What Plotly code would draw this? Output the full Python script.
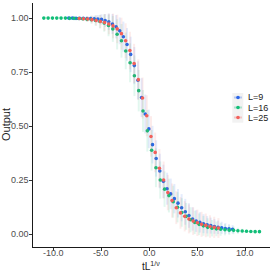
import plotly.graph_objects as go

# ---------------- data ----------------
series_names = ["L=9", "L=16", "L=25"]
series_colors = ["#2B66E8", "#12BE78", "#F2605B"]
error_colors = ["rgba(43,102,232,0.12)", "rgba(18,190,120,0.12)", "rgba(242,96,91,0.12)"]
key_line_colors = ["rgba(43,102,232,0.3)", "rgba(18,190,120,0.3)", "rgba(242,96,91,0.3)"]

x_L9 = [-8.40, -8.02, -7.64, -7.26, -6.88, -6.50, -6.12, -5.74, -5.36, -4.98,
        -4.60, -4.22, -3.84, -3.46, -3.08, -2.70, -2.32, -1.94, -1.56, -1.18,
        -0.80, -0.42, -0.04, 0.34, 0.72, 1.10, 1.48, 1.86, 2.24, 2.62,
        3.00, 3.38, 3.76, 4.14, 4.52, 4.90, 5.28, 5.66, 6.04, 6.42,
        6.80, 7.18, 7.56, 7.94, 8.32, 8.70]
y_L9 = [1.000, 1.000, 0.999, 0.999, 0.999, 0.998, 0.998, 0.997, 0.996, 0.994,
        0.989, 0.983, 0.973, 0.960, 0.941, 0.914, 0.878, 0.832, 0.780, 0.712,
        0.632, 0.556, 0.487, 0.414, 0.350, 0.292, 0.244, 0.210, 0.186, 0.164,
        0.143, 0.122, 0.103, 0.086, 0.070, 0.060, 0.054, 0.048, 0.043, 0.039,
        0.035, 0.031, 0.029, 0.026, 0.024, 0.022]
e_L9 = [0.002, 0.003, 0.004, 0.005, 0.006, 0.008, 0.010, 0.014, 0.018, 0.024,
        0.030, 0.038, 0.046, 0.054, 0.062, 0.070, 0.076, 0.082, 0.086, 0.088,
        0.090, 0.090, 0.089, 0.087, 0.084, 0.080, 0.077, 0.074, 0.071, 0.068,
        0.066, 0.063, 0.060, 0.057, 0.054, 0.050, 0.047, 0.044, 0.040, 0.037,
        0.034, 0.031, 0.028, 0.025, 0.022, 0.020]

x_L16 = [-11.00, -10.55, -10.10, -9.65, -9.20, -8.75, -8.30, -7.85, -7.40, -6.95,
         -6.50, -6.05, -5.60, -5.15, -4.70, -4.25, -3.80, -3.35, -2.90, -2.45,
         -2.00, -1.55, -1.10, -0.65, -0.20, 0.25, 0.70, 1.15, 1.60, 2.05,
         2.50, 2.95, 3.40, 3.85, 4.30, 4.75, 5.20, 5.65, 6.10, 6.55,
         7.00, 7.45, 7.90, 8.35, 8.80, 9.25, 9.70, 10.15, 10.60, 11.05, 11.50]
y_L16 = [1.000, 1.000, 1.000, 1.000, 1.000, 1.000, 0.999, 0.999, 0.998, 0.997,
         0.995, 0.993, 0.989, 0.984, 0.977, 0.966, 0.950, 0.925, 0.895, 0.848,
         0.793, 0.733, 0.664, 0.570, 0.478, 0.388, 0.307, 0.250, 0.208, 0.178,
         0.150, 0.124, 0.100, 0.082, 0.066, 0.054, 0.045, 0.038, 0.031, 0.027,
         0.024, 0.022, 0.020, 0.018, 0.017, 0.015, 0.014, 0.013, 0.012, 0.011, 0.011]
e_L16 = [0.000, 0.000, 0.000, 0.000, 0.001, 0.002, 0.003, 0.004, 0.006, 0.009,
         0.013, 0.018, 0.024, 0.031, 0.040, 0.050, 0.060, 0.070, 0.078, 0.085,
         0.090, 0.094, 0.096, 0.097, 0.096, 0.094, 0.090, 0.086, 0.082, 0.078,
         0.074, 0.070, 0.066, 0.062, 0.058, 0.054, 0.050, 0.046, 0.042, 0.038,
         0.034, 0.030, 0.026, 0.022, 0.018, 0.014, 0.011, 0.008, 0.006, 0.004, 0.003]

x_L25 = [-7.30, -6.86, -6.42, -5.98, -5.54, -5.10, -4.66, -4.22, -3.78, -3.34,
         -2.90, -2.46, -2.02, -1.58, -1.14, -0.70, -0.26, 0.18, 0.62, 1.06,
         1.50, 1.94, 2.38, 2.82, 3.26, 3.70, 4.14, 4.58, 5.02, 5.46,
         5.90, 6.34, 6.78, 7.22]
y_L25 = [0.998, 0.997, 0.996, 0.993, 0.989, 0.984, 0.980, 0.973, 0.964, 0.950,
         0.928, 0.895, 0.850, 0.790, 0.715, 0.630, 0.548, 0.452, 0.378, 0.305,
         0.250, 0.192, 0.155, 0.122, 0.098, 0.082, 0.070, 0.060, 0.052, 0.045,
         0.040, 0.035, 0.031, 0.028]
e_L25 = [0.006, 0.009, 0.013, 0.018, 0.024, 0.031, 0.039, 0.048, 0.057, 0.066,
         0.074, 0.081, 0.087, 0.091, 0.094, 0.095, 0.095, 0.094, 0.092, 0.089,
         0.086, 0.082, 0.079, 0.076, 0.073, 0.070, 0.067, 0.064, 0.061, 0.058,
         0.055, 0.052, 0.049, 0.046]

x_ticks = [-10, -5, 0, 5, 10]
x_tick_labels = ["-10.0", "-5.0", "0.0", "5.0", "10.0"]
y_ticks = [0, 0.25, 0.5, 0.75, 1.0]
y_tick_labels = ["0.00", "0.25", "0.50", "0.75", "1.00"]
x_title = "tL<sup>1/ν</sup>"
y_title = "Output"

xs = [x_L9, x_L16, x_L25]
ys = [y_L9, y_L16, y_L25]
es = [e_L9, e_L16, e_L25]

FONT = "Liberation Sans, Arial, sans-serif"
TICK_COLOR = "#4D4D4D"

# ---------------- figure ----------------
fig = go.Figure()
for name, col, ecol, x, y, e in zip(series_names, series_colors, error_colors, xs, ys, es):
    fig.add_trace(go.Scatter(
        x=x, y=y, mode="markers", name=name, showlegend=False,
        marker=dict(color=col, size=3.6, line=dict(width=0)),
        error_y=dict(type="data", array=e, visible=True, color=ecol,
                     thickness=2, width=0),
    ))

# page-pixel helpers for the panel box
L, R, T, B = 33, 270, 3, 247
def px_x(p):
    return (p - L) / (R - L)
def px_y(p):
    return (B - p) / (B - T)

# custom ggplot-like legend
shapes = [dict(type="rect", xref="paper", yref="paper",
               x0=px_x(232.3), x1=px_x(243.3), y0=px_y(122.7), y1=px_y(93.0),
               fillcolor="#F2F2F2", line=dict(width=0), layer="below")]
annotations = []
for i, (name, col, kcol) in enumerate(zip(series_names, series_colors, key_line_colors)):
    cy = 97.5 + 10 * i
    shapes.append(dict(type="line", xref="paper", yref="paper",
                       x0=px_x(234), x1=px_x(242), y0=px_y(cy), y1=px_y(cy),
                       line=dict(color=kcol, width=2)))
    shapes.append(dict(type="circle", xref="paper", yref="paper",
                       xsizemode="pixel", ysizemode="pixel",
                       xanchor=px_x(238), yanchor=px_y(cy),
                       x0=-1.8, x1=1.8, y0=-1.8, y1=1.8,
                       fillcolor=col, line=dict(width=0)))
    annotations.append(dict(text=name, xref="paper", yref="paper",
                            x=px_x(245.5), y=px_y(cy), xanchor="left", yanchor="middle",
                            showarrow=False,
                            font=dict(family=FONT, size=9, color="#1A1A1A")))

# tick labels (placed on the axes' own scales)
for v, t in zip(x_ticks, x_tick_labels):
    annotations.append(dict(text=t, xref="x", yref="paper", x=v, y=px_y(253.5),
                            xanchor="center", yanchor="middle", showarrow=False,
                            font=dict(family=FONT, size=9, color=TICK_COLOR)))
for v, t in zip(y_ticks, y_tick_labels):
    annotations.append(dict(text=t, xref="paper", yref="y", x=px_x(31), y=v,
                            xanchor="right", yanchor="middle", showarrow=False,
                            font=dict(family=FONT, size=9, color=TICK_COLOR)))

# axis titles
annotations.append(dict(text=x_title, xref="paper", yref="paper",
                        x=px_x(151), y=px_y(265.5), xanchor="center", yanchor="middle",
                        showarrow=False, font=dict(family=FONT, size=10, color="#1A1A1A")))
annotations.append(dict(text=y_title, xref="paper", yref="paper",
                        x=px_x(6), y=px_y(125), xanchor="center", yanchor="middle",
                        textangle=-90, showarrow=False,
                        font=dict(family=FONT, size=11, color="#1A1A1A")))

fig.update_layout(
    width=273, height=273,
    margin=dict(l=L, r=273 - R, t=T, b=273 - B),
    paper_bgcolor="white", plot_bgcolor="white",
    font=dict(family=FONT, size=9, color=TICK_COLOR),
    shapes=shapes, annotations=annotations,
    showlegend=False,
)
fig.update_xaxes(
    range=[-12.13, 12.6], tickvals=x_ticks, showticklabels=False,
    showline=True, linecolor="#1A1A1A", linewidth=1,
    ticks="outside", ticklen=3, tickcolor="#333333", tickwidth=1,
    showgrid=False, zeroline=False, automargin=False,
)
fig.update_yaxes(
    range=[-0.06, 1.07], tickvals=y_ticks, showticklabels=False,
    showline=True, linecolor="#1A1A1A", linewidth=1,
    ticks="outside", ticklen=3, tickcolor="#333333", tickwidth=1,
    showgrid=False, zeroline=False, automargin=False,
)

fig.write_html(
    "out.html",
    config={"displayModeBar": False},
    post_script="document.body.style.margin='0';document.body.style.overflow='hidden';",
)
